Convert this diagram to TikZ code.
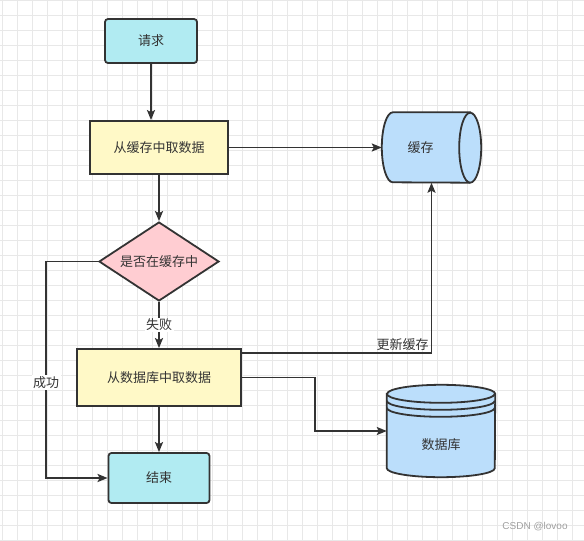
\documentclass[tikz,border=0pt]{standalone}
\usepackage{fontspec}
\newfontfamily\cjk{Noto Sans CJK SC}
\newfontfamily\markfont{Liberation Sans}
\usetikzlibrary{positioning, calc, arrows.meta, shapes}
\definecolor{ink}{HTML}{333333}
\definecolor{aqua}{HTML}{B1EBF2}
\definecolor{lemon}{HTML}{FFF9C7}
\definecolor{blush}{HTML}{FFCDD2}
\definecolor{sky}{HTML}{BBDEFB}
\definecolor{gridgray}{HTML}{E8E8E8}
\newcommand\boxfont{\cjk\fontsize{13}{15}\selectfont}

\begin{document}
\begin{tikzpicture}[x = 1pt, y = -1pt]

\tikzset{
gridline/.style = {draw = gridgray, line width = 0.8pt},
terminal/.style = {rectangle, rounded corners = 3pt, draw = ink, line width = 1.8pt,
	fill = aqua, inner sep = 0pt, font = \boxfont, text = ink},
process/.style = {rectangle, draw = ink, line width = 1.8pt, fill = lemon,
	inner sep = 0pt, font = \boxfont, text = ink},
decision/.style = {diamond, aspect = 1.5, draw = ink, line width = 1.8pt, fill = blush,
	inner sep = 0pt, minimum width = 120pt, minimum height = 79pt, font = \boxfont, text = ink},
tank/.style = {draw = ink, line width = 1.8pt},
tag/.style = {font = \boxfont, text = ink},
branch/.style = {fill = white, inner sep = 1.5pt, font = \boxfont, text = ink},
flow/.style = {draw = ink, line width = 1.8pt, -{Stealth[length = 10pt, width = 8pt, inset = 2pt]}},
}

\useasboundingbox (0, 0) rectangle (584, 541);

%% Grid
\foreach \gx in {2, 17, ..., 584}
	\draw [gridline] (\gx, 0) -- (\gx, 541);
\foreach \gy in {0, 15, ..., 541}
	\draw [gridline] (0, \gy) -- (584, \gy);

%% Flowchart
% Steps
\node at (151, 41) [terminal, minimum width = 92pt, minimum height = 44pt] (req) {请求};
\node at (159, 147.5) [process, minimum width = 138pt, minimum height = 53pt] (getcache) {从缓存中取数据};
\node at (159, 261.5) [decision] (incache) {是否在缓存中};
\node at (159, 377.5) [process, minimum width = 164pt, minimum height = 57pt] (getdb) {从数据库中取数据};
\node at (159, 478) [terminal, minimum width = 101pt, minimum height = 50pt] (done) {结束};

% Cache (lying cylinder)
\node at (431.5, 147.5) [minimum width = 99pt, minimum height = 70pt, inner sep = 0pt] (cache) {};
\draw [tank, fill = sky] ([xshift = -11pt]cache.north east) -- ([xshift = 11pt]cache.north west)
	arc [start angle = 270, end angle = 90, x radius = 11, y radius = 35]
	-- ([xshift = -11pt]cache.south east)
	arc [start angle = 90, end angle = -90, x radius = 11, y radius = 35] -- cycle;
\draw [tank] ([xshift = -11pt]cache.south east)
	arc [start angle = 90, end angle = 270, x radius = 11, y radius = 35];
\node at ([xshift = -11pt]cache.center) [tag] (cache-label) {缓存};

% Database (standing cylinder)
\node at (441, 431) [minimum width = 108pt, minimum height = 92pt, inner sep = 0pt] (db) {};
\draw [tank, fill = sky] ([yshift = -9pt]db.north west) -- ([yshift = 9pt]db.south west)
	arc [start angle = 180, end angle = 0, x radius = 54, y radius = 9]
	-- ([yshift = -9pt]db.north east)
	arc [start angle = 0, end angle = -180, x radius = 54, y radius = 9] -- cycle;
\foreach \rim in {9pt, 16pt, 23pt}
	\draw [tank] ([yshift = -\rim]db.north west)
		arc [start angle = 180, end angle = 0, x radius = 54, y radius = 9];
\node at ([yshift = -14pt]db.center) [tag] (db-label) {数据库};

% Connectors
\draw [flow] (req.south) -- (req |- getcache.north);
\draw [flow] (getcache) -- (incache);
\draw [flow] (getcache) -- (cache.west);
\draw [flow] (incache) -- node [branch] (fail) {失败} (getdb);
\draw [flow] (incache.west) -- ++(-52, 0) |- node [branch, pos = 0.28] (hit) {成功} (done.west);
\draw [flow] (getdb) -- (done);
\draw [flow] ([yshift = 24.5pt]getdb.east) -| node [pos = 0.5, above left, tag, inner sep = 2pt] (refresh) {更新缓存} (cache.south);
\draw [flow] (getdb.east) -- ++(73, 0) |- (db.west);

%% Watermark
\node at (535, 527) [font = \markfont\fontsize{10}{12}\selectfont, text = gray!75] (mark) {CSDN @lovoo};

\end{tikzpicture}
\end{document}
